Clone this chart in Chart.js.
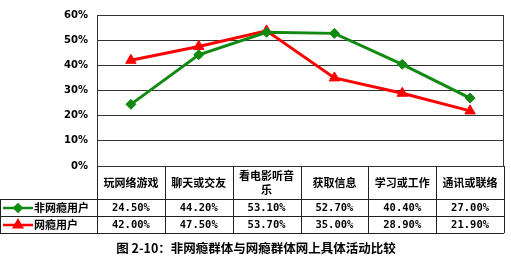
<!DOCTYPE html>
<html>
<head>
<meta charset="utf-8">
<script src="https://cdn.jsdelivr.net/npm/chart.js@4/dist/chart.umd.min.js"></script>
<style>
  html, body { margin: 0; padding: 0; background: #fff; }
  canvas { display: block; }
</style>
</head>
<body>
<canvas id="chart" width="511" height="261"></canvas>
<script>
const categories = ['玩网络游戏', '聊天或交友', '看电影听音乐', '获取信息', '学习或工作', '通讯或联络'];
const nonAddicted = [24.5, 44.2, 53.1, 52.7, 40.4, 27.0];
const addicted = [42.0, 47.5, 53.7, 35.0, 28.9, 21.9];
const seriesNames = ['非网瘾用户', '网瘾用户'];
const yTicks = [0, 10, 20, 30, 40, 50, 60];
const caption = '图 2-10：非网瘾群体与网瘾群体网上具体活动比较';

const GREEN = '#128a12';
const RED = '#ff0000';

// draws the data table under the plot and the caption
const tablePlugin = {
    id: 'dataTable',
    afterDraw(chart) {
        const ctx = chart.ctx;
        const x = chart.scales.x;
        const area = chart.chartArea;
        const n = categories.length;
        const colW = (area.right - area.left) / n;
        const top = area.bottom;
        const rowCat = top + 33;
        const row1 = rowCat + 17;
        const row2 = row1 + 17;

        ctx.save();
        ctx.strokeStyle = '#222';
        ctx.lineWidth = 1;
        ctx.beginPath();
        // horizontal lines
        ctx.moveTo(0, rowCat + 0.5); ctx.lineTo(area.right, rowCat + 0.5);
        ctx.moveTo(0, row1 + 0.5); ctx.lineTo(area.right, row1 + 0.5);
        ctx.moveTo(0, row2 + 0.5); ctx.lineTo(area.right, row2 + 0.5);
        // vertical lines
        ctx.moveTo(0.5, rowCat); ctx.lineTo(0.5, row2);
        for (let i = 0; i <= n; i++) {
            const vx = Math.round(area.left + i * colW) + 0.5;
            ctx.moveTo(vx, top); ctx.lineTo(vx, row2);
        }
        ctx.stroke();

        ctx.fillStyle = '#000';
        ctx.textAlign = 'center';
        ctx.textBaseline = 'middle';
        ctx.font = 'bold 11px "Noto Sans CJK SC"';
        categories.forEach((c, i) => {
            const cx = x.getPixelForValue(i);
            if (ctx.measureText(c).width > colW - 6) {
                ctx.fillText(c.slice(0, 5), cx, top + 10);
                ctx.fillText(c.slice(5), cx, top + 24);
            } else {
                ctx.fillText(c, cx, top + 17);
            }
        });

        ctx.font = 'bold 10.5px "DejaVu Sans Mono", monospace';
        [nonAddicted, addicted].forEach((data, r) => {
            const cy = (r === 0 ? rowCat : row1) + 9;
            data.forEach((v, i) => {
                ctx.fillText(v.toFixed(2) + '%', x.getPixelForValue(i), cy);
            });
        });

        // legend keys
        const keys = [
            { color: GREEN, style: 'rectRot', r: 3.5, y: rowCat + 9 },
            { color: RED, style: 'triangle', r: 4.5, y: row1 + 9 }
        ];
        keys.forEach((k, i) => {
            ctx.strokeStyle = k.color;
            ctx.lineWidth = 2.5;
            ctx.beginPath();
            ctx.moveTo(3, k.y); ctx.lineTo(33, k.y);
            ctx.stroke();
            ctx.fillStyle = k.color;
            Chart.helpers.drawPoint(ctx, { pointStyle: k.style, radius: k.r, borderWidth: 1 }, 18, k.y);
            ctx.fillStyle = '#000';
            ctx.textAlign = 'left';
            ctx.font = 'bold 11px "Noto Sans CJK SC"';
            ctx.fillText(seriesNames[i], 34, k.y);
        });

        ctx.textAlign = 'center';
        ctx.font = 'bold 12.5px "Noto Sans CJK SC"';
        ctx.fillText(caption, 256, 248);
        ctx.restore();
    }
};

new Chart(document.getElementById('chart'), {
    type: 'line',
    data: {
        labels: categories,
        datasets: [
            {
                label: seriesNames[0],
                data: nonAddicted,
                borderColor: GREEN,
                backgroundColor: GREEN,
                borderWidth: 3,
                pointStyle: 'rectRot',
                pointRadius: 5,
                pointBorderWidth: 1,
                tension: 0
            },
            {
                label: seriesNames[1],
                data: addicted,
                borderColor: RED,
                backgroundColor: RED,
                borderWidth: 3,
                pointStyle: 'triangle',
                pointRadius: 6,
                pointBorderWidth: 1,
                tension: 0
            }
        ]
    },
    options: {
        responsive: false,
        animation: false,
        devicePixelRatio: 1,
        layout: { padding: { top: 4, right: 1, bottom: 95, left: 0 } },
        plugins: {
            legend: { display: false },
            tooltip: { enabled: false }
        },
        scales: {
            x: {
                display: false,
                offset: true
            },
            y: {
                min: 0,
                max: 60,
                afterFit(scale) { scale.width = 97; },
                afterBuildTicks(scale) { scale.ticks = yTicks.map(v => ({ value: v })); },
                ticks: {
                    padding: 9,
                    color: '#000',
                    font: { family: '"DejaVu Sans"', size: 10, weight: 'bold' },
                    callback: v => v + '%'
                },
                grid: { color: '#333', drawTicks: false },
                border: { color: '#333' }
            }
        }
    },
    plugins: [tablePlugin, {
        id: 'frame',
        afterDraw(chart) {
            const { ctx, chartArea: a } = chart;
            ctx.save();
            ctx.strokeStyle = '#333';
            ctx.lineWidth = 1;
            ctx.strokeRect(Math.round(a.left) + 0.5, Math.round(a.top) + 0.5, Math.round(a.right - a.left) - 1, Math.round(a.bottom - a.top));
            ctx.restore();
        }
    }]
});
</script>
</body>
</html>
